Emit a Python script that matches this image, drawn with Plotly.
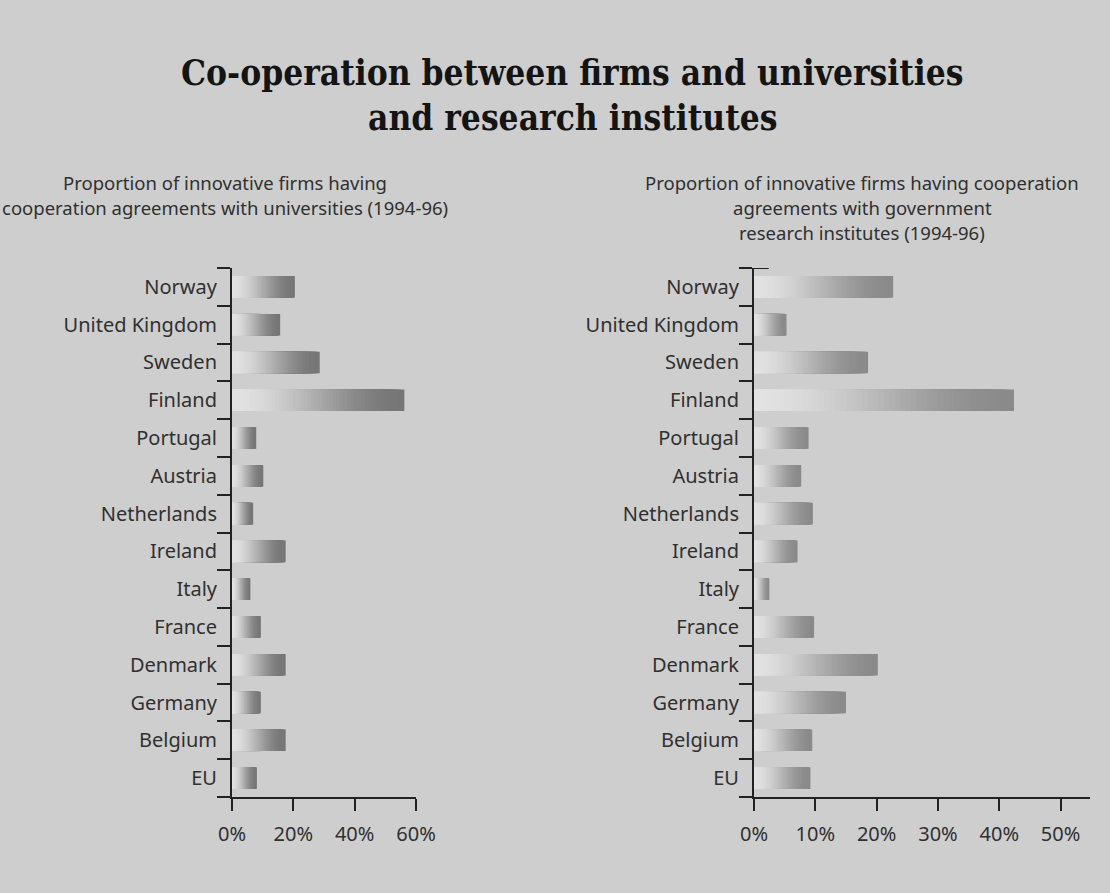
import plotly.graph_objects as go

countries = ["Norway", "United Kingdom", "Sweden", "Finland", "Portugal", "Austria",
             "Netherlands", "Ireland", "Italy", "France", "Denmark", "Germany",
             "Belgium", "EU"]
universities = [20.5, 15.7, 28.6, 56.2, 7.9, 10.2, 6.9, 17.5, 6.0, 9.4, 17.5, 9.4, 17.5, 8.1]
research_institutes = [22.7, 5.3, 18.6, 42.4, 8.9, 7.7, 9.6, 7.1, 2.5, 9.8, 20.2, 15.0, 9.5, 9.2]

left_ticks = [0, 20, 40, 60]
left_ticktext = ["0%", "20%", "40%", "60%"]
right_ticks = [0, 10, 20, 30, 40, 50]
right_ticktext = ["0%", "10%", "20%", "30%", "40%", "50%"]

title_lines = ["Co-operation between firms and universities", "and research institutes"]
sub_left = ["Proportion of innovative firms having",
            "cooperation agreements with universities (1994-96)"]
sub_right = ["Proportion of innovative firms having cooperation",
             "agreements with government",
             "research institutes (1994-96)"]

BG = "#cecece"
LABEL_FONT = "Noto Sans"
TEXT = "#303030"
N_STEPS = 48

fig = go.Figure()


def mix(c1, c2, t):
    return "rgb(%d,%d,%d)" % tuple(round(a + (b - a) * t) for a, b in zip(c1, c2))


def add_gradient_bars(values, xa, ya, light, dark):
    # overlayed bars of decreasing length -> light on the left, dark on the right
    for k in range(N_STEPS):
        frac = 1 - k / N_STEPS
        f = frac
        t = f * f * (3 - 2 * f)
        fig.add_trace(go.Bar(
            x=[v * frac for v in values], y=countries, orientation="h",
            marker=dict(color=mix(light, dark, t), line=dict(width=0)),
            width=0.57, xaxis=xa, yaxis=ya, showlegend=False, hoverinfo="skip",
        ))


add_gradient_bars(universities, "x", "y", (226, 226, 226), (118, 118, 118))
add_gradient_bars(research_institutes, "x2", "y2", (226, 226, 226), (138, 138, 138))

ydom = [(893 - 797) / 893, (893 - 268) / 893]
yaxis_common = dict(
    type="category", categoryorder="array", categoryarray=countries[::-1],
    range=[-0.5, 13.5], domain=ydom, tickson="boundaries", ticks="outside",
    ticklen=13, tickwidth=2, tickcolor="#222", showline=True, linecolor="#222",
    linewidth=2, showgrid=False, zeroline=False, automargin=False,
    ticklabelstandoff=9,
    tickfont=dict(family=LABEL_FONT, size=20, color=TEXT), fixedrange=True,
)
xaxis_common = dict(
    showline=True, linecolor="#222", linewidth=2, ticks="outside", ticklen=12,
    tickwidth=2, tickcolor="#222", showgrid=False, zeroline=False, automargin=False,
    tickfont=dict(family=LABEL_FONT, size=20, color=TEXT), ticklabelstandoff=6,
    fixedrange=True,
)

fig.update_layout(
    width=1110, height=893, paper_bgcolor=BG, plot_bgcolor=BG,
    margin=dict(l=0, r=0, t=0, b=0, pad=0, autoexpand=False), barmode="overlay",
    showlegend=False,
    xaxis=dict(xaxis_common, domain=[232 / 1110, 416 / 1110], range=[0, 60],
               tickvals=left_ticks, ticktext=left_ticktext, anchor="y"),
    yaxis=dict(yaxis_common, anchor="x"),
    xaxis2=dict(xaxis_common, domain=[754 / 1110, 1090 / 1110], range=[0, 54.8],
                tickvals=right_ticks, ticktext=right_ticktext, anchor="y2"),
    yaxis2=dict(yaxis_common, anchor="x2"),
)

# top short tick pointing right on the right chart
fig.add_shape(type="line", xref="x2", yref="y2", x0=0, x1=2.4, y0=13.5, y1=13.5,
              line=dict(color="#222", width=2))

annotations = []
for i, line in enumerate(title_lines):
    annotations.append(dict(
        text="<b>%s</b>" % line, x=573 / 1110, y=(893 - (73 + i * 44)) / 893,
        xref="paper", yref="paper", showarrow=False, xanchor="center", yanchor="middle",
        font=dict(family="DejaVu Serif Condensed", size=35, color="#141414"),
    ))
for i, line in enumerate(sub_left):
    annotations.append(dict(
        text=line, x=225 / 1110, y=(893 - (183 + i * 25)) / 893, xref="paper", yref="paper",
        showarrow=False, xanchor="center", yanchor="middle",
        font=dict(family=LABEL_FONT, size=18.5, color=TEXT),
    ))
for i, line in enumerate(sub_right):
    annotations.append(dict(
        text=line, x=862 / 1110, y=(893 - (183 + i * 24.5)) / 893, xref="paper", yref="paper",
        showarrow=False, xanchor="center", yanchor="middle",
        font=dict(family=LABEL_FONT, size=18.5, color=TEXT),
    ))
fig.update_layout(annotations=annotations)

fig.write_html("out.html", config={"displayModeBar": False},
               post_script="document.body.style.margin='0';")
